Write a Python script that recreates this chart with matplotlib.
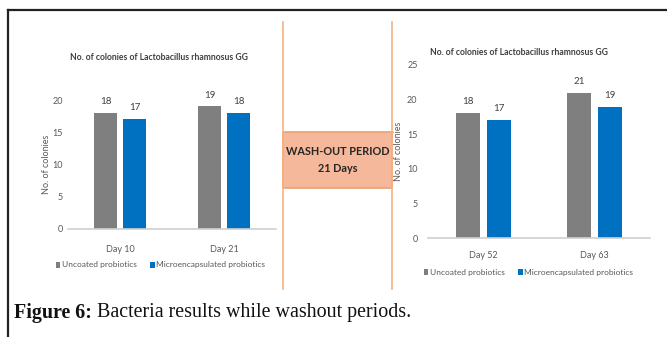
import matplotlib
matplotlib.use("Agg")
import matplotlib.pyplot as plt
from matplotlib.patches import Rectangle
from matplotlib.lines import Line2D
import numpy as np

# -----------------------------
# Data
# -----------------------------
chart_title = "No. of colonies of Lactobacillus rhamnosus GG"
series_names = ["Uncoated probiotics", "Microencapsulated probiotics"]

days_before = ["Day 10", "Day 21"]
uncoated_before = [18, 19]
micro_before = [17, 18]

days_after = ["Day 52", "Day 63"]
uncoated_after = [18, 21]
micro_after = [17, 19]

washout_text = "WASH-OUT PERIOD\n21 Days"
caption_bold = "Figure 6:"
caption_rest = " Bacteria results while washout periods."

# -----------------------------
# Style
# -----------------------------
W, H = 667, 337
GRAY = "#7f7f7f"
BLUE = "#0070c0"
TXT = "#595959"
SANS = ["Lato", "DejaVu Sans"]
plt.rcParams["font.family"] = SANS

fig = plt.figure(figsize=(W / 100, H / 100), dpi=100)


def px_box(x0, x1, y_top, y_bot):
    """pixel coords (top-left origin) -> figure fraction rect"""
    return [x0 / W, 1 - y_bot / H, (x1 - x0) / W, (y_bot - y_top) / H]


def draw_chart(rect, cats, s1, s2, ymax, title_xy, ylabel_x, ypad, xpad, legend_xy):
    ax = fig.add_axes(rect)
    x = np.arange(len(cats))
    w = 0.22
    b1 = ax.bar(x - 0.14, s1, w, color=GRAY, label=series_names[0])
    b2 = ax.bar(x + 0.14, s2, w, color=BLUE, label=series_names[1])
    for bars in (b1, b2):
        for r in bars:
            ax.annotate(f"{r.get_height():.0f}",
                        (r.get_x() + r.get_width() / 2, r.get_height()),
                        xytext=(0, 5), textcoords="offset points",
                        ha="center", va="bottom", fontsize=7, color="#404040")
    ax.set_xlim(-0.5, len(cats) - 0.5)
    ax.set_ylim(0, ymax)
    ax.set_yticks(np.arange(0, ymax + 1, 5))
    ax.set_xticks(x)
    ax.set_xticklabels(cats)
    for s in ("top", "right", "left"):
        ax.spines[s].set_visible(False)
    ax.spines["bottom"].set_color("#d0d0d0")
    ax.spines["bottom"].set_linewidth(1.2)
    ax.tick_params(axis="both", length=0, labelsize=6.5, colors=TXT)
    ax.tick_params(axis="y", pad=ypad)
    ax.tick_params(axis="x", pad=xpad)
    ax.set_ylabel("No. of colonies", fontsize=6.5, color=TXT, va="center")
    ax.yaxis.set_label_coords(ylabel_x, 0.5)
    ax.text(title_xy[0], title_xy[1], chart_title, transform=ax.transAxes,
            ha="center", va="center", fontsize=6.2, color="#404040",
            fontweight="bold")
    ax.legend(loc="center", bbox_to_anchor=legend_xy, ncol=2,
              frameon=False, fontsize=6, handlelength=0.55, handleheight=0.75,
              handletextpad=0.2, columnspacing=1.6, labelcolor=TXT,
              borderaxespad=0, borderpad=0)
    return ax


ax1 = draw_chart(px_box(68, 276, 100, 229), days_before,
                 uncoated_before, micro_before, 20,
                 title_xy=(0.4375, 1.333), ylabel_x=-0.105, ypad=3.5, xpad=11.5,
                 legend_xy=(0.445, -0.279))
ax2 = draw_chart(px_box(428, 650, 65, 238), days_after,
                 uncoated_after, micro_after, 25,
                 title_xy=(0.41, 1.075), ylabel_x=-0.135, ypad=7.5, xpad=9.5,
                 legend_xy=(0.453, -0.197))

# -----------------------------
# Wash-out separator
# -----------------------------
orange = "#f4b183"
for xp in (283, 392):
    fig.add_artist(Line2D([xp / W, xp / W], [1 - 22 / H, 1 - 289 / H],
                          color=orange, lw=1.2))
fig.add_artist(Rectangle((283 / W, 1 - 188 / H), 109 / W, 56 / H,
                         facecolor="#f5b89a", edgecolor="#eaa070", lw=1.2))
fig.text(337.5 / W, 1 - 160 / H, washout_text, ha="center", va="center",
         fontsize=7.8, fontweight="bold", color="#262626", linespacing=1.7)

# -----------------------------
# Frame lines
# -----------------------------
fig.add_artist(Line2D([8 / W, 1], [1 - 10 / H, 1 - 10 / H], color="#222222", lw=1.6))
fig.add_artist(Line2D([8 / W, 8 / W], [1 - 10 / H, 0], color="#222222", lw=1.6))

# -----------------------------
# Caption
# -----------------------------
SERIF = ["Liberation Serif", "DejaVu Serif"]
t1 = fig.text(14 / W, 1 - 313 / H, caption_bold, ha="left", va="center",
              fontsize=14.4, fontweight="bold", family=SERIF, color="#111111")
fig.canvas.draw()
bb = t1.get_window_extent(fig.canvas.get_renderer())
fig.text(bb.x1 / W, 1 - 313 / H, caption_rest, ha="left", va="center",
         fontsize=14.4, family=SERIF, color="#111111")

fig.savefig("out.png", dpi=100)
